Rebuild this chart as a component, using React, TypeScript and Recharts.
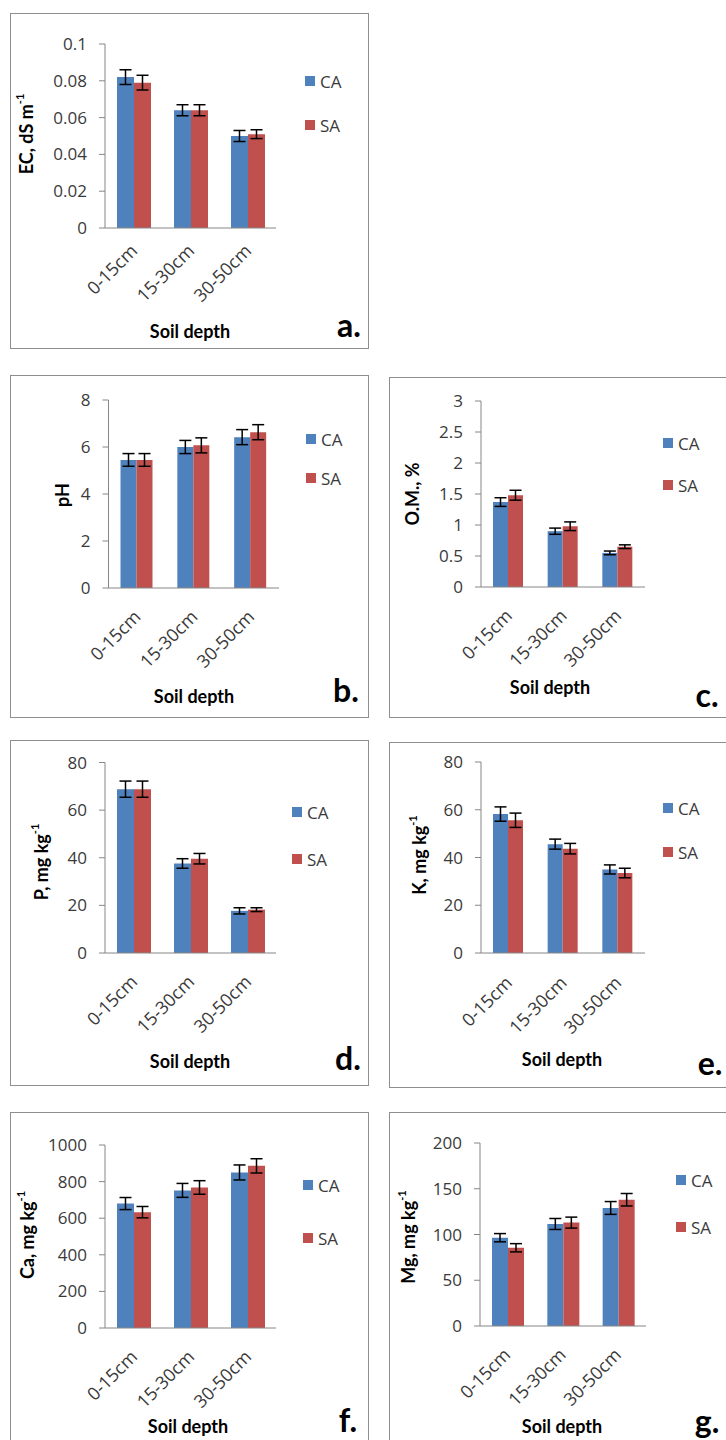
import { Bar, BarChart, ErrorBar, Label, Legend, XAxis, YAxis } from 'recharts';

const depths = ['0-15cm', '15-30cm', '30-50cm'];

// a. EC
const ecCA = [0.082, 0.064, 0.05];
const ecSA = [0.079, 0.064, 0.051];
const ecCAErr = [0.004, 0.003, 0.003];
const ecSAErr = [0.004, 0.003, 0.0024];
const ecTicks = [0, 0.02, 0.04, 0.06, 0.08, 0.1];

// b. pH
const phCA = [5.45, 6.0, 6.42];
const phSA = [5.45, 6.07, 6.63];
const phCAErr = [0.27, 0.28, 0.32];
const phSAErr = [0.27, 0.32, 0.32];
const phTicks = [0, 2, 4, 6, 8];

// c. O.M.
const omCA = [1.37, 0.9, 0.55];
const omSA = [1.48, 0.98, 0.65];
const omCAErr = [0.07, 0.05, 0.03];
const omSAErr = [0.08, 0.07, 0.03];
const omTicks = [0, 0.5, 1, 1.5, 2, 2.5, 3];

// d. P
const pCA = [68.8, 37.6, 17.7];
const pSA = [68.8, 39.6, 18.2];
const pCAErr = [3.4, 2.0, 1.3];
const pSAErr = [3.4, 2.2, 0.8];
const pTicks = [0, 20, 40, 60, 80];

// e. K
const kCA = [58.2, 45.6, 35];
const kSA = [55.6, 43.7, 33.5];
const kCAErr = [3.0, 2.1, 1.9];
const kSAErr = [3.0, 2.2, 2.0];
const kTicks = [0, 20, 40, 60, 80];

// f. Ca
const caCA = [680, 752, 850];
const caSA = [633, 768, 886];
const caCAErr = [33, 38, 41];
const caSAErr = [31, 37, 39];
const caTicks = [0, 200, 400, 600, 800, 1000];

// g. Mg
const mgCA = [96.5, 111.5, 129];
const mgSA = [85.5, 113, 138];
const mgCAErr = [4.5, 6, 7];
const mgSAErr = [4.5, 6, 6.8];
const mgTicks = [0, 50, 100, 150, 200];

const BLUE = '#4F81BD';
const RED = '#C0504D';
const AXIS = '#868686';
const TEXT = '#3a3a3a';
const TICK_FONT = '"Open Sans", sans-serif';
const TITLE_FONT = 'Lato, sans-serif';

function DepthTick(props: any) {
  const { x, y, payload, offX, offY } = props;
  const tx = x + offX;
  const ty = y + offY;
  return (
    <text
      x={tx}
      y={ty}
      transform={`rotate(-45 ${tx} ${ty})`}
      textAnchor="end"
      fontSize={18}
      fontFamily={TICK_FONT}
      fill={TEXT}
    >
      {payload.value}
    </text>
  );
}

function YTitle({ titleX, titleY, text, sup }: any) {
  return (
    <text
      transform={`translate(${titleX},${titleY}) rotate(-90)`}
      textAnchor="middle"
      dominantBaseline="central"
      fontSize={18}
      fontWeight="bold"
      fontFamily={TITLE_FONT}
      fill="#000"
    >
      {text}
      {sup && (
        <tspan dy={-7} fontSize={11}>
          {sup}
        </tspan>
      )}
    </text>
  );
}

function SoilTitle({ titleX, titleY }: any) {
  return (
    <text x={titleX} y={titleY} textAnchor="middle" fontSize={18} fontWeight="bold" fontFamily={TITLE_FONT} fill="#000">
      Soil depth
    </text>
  );
}

function LegendBox({ payload, gap }: any) {
  return (
    <div>
      {(payload || []).map((item: any) => (
        <div key={item.value} style={{ display: 'flex', alignItems: 'center', height: gap }}>
          <span style={{ display: 'inline-block', width: 10, height: 10, background: item.color, marginRight: 5 }} />
          <span style={{ fontFamily: TICK_FONT, fontSize: 17, color: TEXT, lineHeight: '17px' }}>{item.value}</span>
        </div>
      ))}
    </div>
  );
}

interface PanelProps {
  box: { left: number; top: number; width: number; height: number };
  plot: { left: number; right: number; top: number; bottom: number };
  ca: number[];
  sa: number[];
  caErr: number[];
  saErr: number[];
  ticks: number[];
  yTitle: string;
  ySup?: string;
  yTitlePos: { x: number; y: number };
  legend: { x: number; y: number; gap: number };
  tickOff: { dx: number; dy: number };
  soil: { x: number; y: number };
  letter: { text: string; x: number; y: number };
}

function Panel(p: PanelProps) {
  const ox = p.box.left + 1;
  const oy = p.box.top + 1;
  const w = p.box.width - 2;
  const h = p.box.height - 2;
  const yW = 60;
  const rows = depths.map((d, i) => ({
    depth: d,
    CA: p.ca[i],
    SA: p.sa[i],
    caErr: p.caErr[i],
    saErr: p.saErr[i],
  }));
  const margin = {
    top: p.plot.top - oy,
    left: p.plot.left - ox - yW,
    right: ox + w - p.plot.right,
    bottom: oy + h - p.soil.y - 6,
  };
  const xH = p.soil.y + 6 - p.plot.bottom;
  return (
    <div
      style={{
        position: 'absolute',
        left: p.box.left,
        top: p.box.top,
        width: p.box.width,
        height: p.box.height,
        border: '1px solid #8e8e8e',
        boxSizing: 'border-box',
        background: '#fff',
      }}
    >
      <BarChart width={w} height={h} data={rows} margin={margin} barCategoryGap={12} barGap={0}>
        <XAxis
          dataKey="depth"
          height={xH}
          interval={0}
          axisLine={{ stroke: AXIS }}
          tickLine={false}
          tickSize={0}
          tickMargin={0}
          tick={<DepthTick offX={p.tickOff.dx} offY={p.tickOff.dy} />}
        >
          <Label content={<SoilTitle titleX={p.soil.x - ox} titleY={p.soil.y - oy} />} />
        </XAxis>
        <YAxis
          width={yW}
          domain={[0, p.ticks[p.ticks.length - 1]]}
          ticks={p.ticks}
          interval={0}
          axisLine={{ stroke: AXIS }}
          tickLine={{ stroke: AXIS }}
          tickSize={6}
          tickMargin={12}
          tick={{ fill: TEXT, fontSize: 17, fontFamily: TICK_FONT }}
        >
          <Label
            content={
              <YTitle titleX={p.yTitlePos.x - ox} titleY={p.yTitlePos.y - oy} text={p.yTitle} sup={p.ySup} />
            }
          />
        </YAxis>
        <Legend
          layout="vertical"
          align="center"
          verticalAlign="middle"
          wrapperStyle={{ left: p.legend.x - ox, top: p.legend.y - p.legend.gap / 2 - oy, width: 'auto' }}
          content={<LegendBox gap={p.legend.gap} />}
        />
        <Bar dataKey="CA" fill={BLUE} isAnimationActive={false}>
          <ErrorBar dataKey="caErr" width={6} stroke="#000" strokeWidth={1.5} direction="y" isAnimationActive={false} />
        </Bar>
        <Bar dataKey="SA" fill={RED} isAnimationActive={false}>
          <ErrorBar dataKey="saErr" width={6} stroke="#000" strokeWidth={1.5} direction="y" isAnimationActive={false} />
        </Bar>
      </BarChart>
      <div
        style={{
          position: 'absolute',
          left: p.letter.x - ox - 25,
          top: p.letter.y - oy - 18,
          width: 50,
          height: 36,
          lineHeight: '36px',
          textAlign: 'center',
          fontFamily: TITLE_FONT,
          fontWeight: 'bold',
          fontSize: 32,
          color: '#000',
        }}
      >
        {p.letter.text}
      </div>
    </div>
  );
}

export default function App() {
  return (
    <div
      style={{
        position: 'absolute',
        left: 0,
        top: 0,
        width: 726,
        height: 1440,
        overflow: 'hidden',
        background: '#fff',
      }}
    >
      <Panel
        box={{ left: 10, top: 13, width: 359, height: 336 }}
        plot={{ left: 105, right: 276, top: 44, bottom: 228 }}
        ca={ecCA}
        sa={ecSA}
        caErr={ecCAErr}
        saErr={ecSAErr}
        ticks={ecTicks}
        yTitle="EC, dS m"
        ySup="-1"
        yTitlePos={{ x: 26, y: 134 }}
        legend={{ x: 305, y: 81, gap: 44 }}
        tickOff={{ dx: 5, dy: 24 }}
        soil={{ x: 190, y: 338 }}
        letter={{ text: 'a.', x: 349, y: 325 }}
      />
      <Panel
        box={{ left: 10, top: 375, width: 359, height: 343 }}
        plot={{ left: 108.5, right: 279, top: 400, bottom: 588 }}
        ca={phCA}
        sa={phSA}
        caErr={phCAErr}
        saErr={phSAErr}
        ticks={phTicks}
        yTitle="pH"
        yTitlePos={{ x: 62, y: 495 }}
        legend={{ x: 306, y: 439, gap: 39 }}
        tickOff={{ dx: 5, dy: 30 }}
        soil={{ x: 194, y: 703 }}
        letter={{ text: 'b.', x: 346, y: 690 }}
      />
      <Panel
        box={{ left: 389, top: 377, width: 345, height: 341 }}
        plot={{ left: 481, right: 645, top: 401, bottom: 587 }}
        ca={omCA}
        sa={omSA}
        caErr={omCAErr}
        saErr={omSAErr}
        ticks={omTicks}
        yTitle="O.M., %"
        yTitlePos={{ x: 412, y: 494 }}
        legend={{ x: 663, y: 443, gap: 42 }}
        tickOff={{ dx: 5, dy: 30 }}
        soil={{ x: 550, y: 694 }}
        letter={{ text: 'c.', x: 707, y: 695 }}
      />
      <Panel
        box={{ left: 10, top: 740, width: 359, height: 346 }}
        plot={{ left: 105, right: 276, top: 762.5, bottom: 953 }}
        ca={pCA}
        sa={pSA}
        caErr={pCAErr}
        saErr={pSAErr}
        ticks={pTicks}
        yTitle="P, mg kg"
        ySup="-1"
        yTitlePos={{ x: 41, y: 862 }}
        legend={{ x: 292, y: 812, gap: 47 }}
        tickOff={{ dx: 5, dy: 30 }}
        soil={{ x: 190, y: 1068 }}
        letter={{ text: 'd.', x: 348, y: 1058 }}
      />
      <Panel
        box={{ left: 389, top: 742, width: 345, height: 346 }}
        plot={{ left: 481, right: 645, top: 762, bottom: 953 }}
        ca={kCA}
        sa={kSA}
        caErr={kCAErr}
        saErr={kSAErr}
        ticks={kTicks}
        yTitle="K, mg kg"
        ySup="-1"
        yTitlePos={{ x: 419, y: 855 }}
        legend={{ x: 663, y: 808, gap: 44 }}
        tickOff={{ dx: 5, dy: 31 }}
        soil={{ x: 562, y: 1066 }}
        letter={{ text: 'e.', x: 710, y: 1063 }}
      />
      <Panel
        box={{ left: 10, top: 1112, width: 359, height: 345 }}
        plot={{ left: 105, right: 276, top: 1145, bottom: 1328 }}
        ca={caCA}
        sa={caSA}
        caErr={caCAErr}
        saErr={caSAErr}
        ticks={caTicks}
        yTitle="Ca, mg kg"
        ySup="-1"
        yTitlePos={{ x: 27, y: 1235 }}
        legend={{ x: 303, y: 1185, gap: 53 }}
        tickOff={{ dx: 5, dy: 30 }}
        soil={{ x: 188, y: 1433 }}
        letter={{ text: 'f.', x: 348, y: 1420 }}
      />
      <Panel
        box={{ left: 389, top: 1112, width: 345, height: 345 }}
        plot={{ left: 480, right: 646, top: 1143, bottom: 1326 }}
        ca={mgCA}
        sa={mgSA}
        caErr={mgCAErr}
        saErr={mgSAErr}
        ticks={mgTicks}
        yTitle="Mg, mg kg"
        ySup="-1"
        yTitlePos={{ x: 408, y: 1237 }}
        legend={{ x: 676, y: 1180, gap: 47 }}
        tickOff={{ dx: 4, dy: 30 }}
        soil={{ x: 562, y: 1433 }}
        letter={{ text: 'g.', x: 707, y: 1421 }}
      />
    </div>
  );
}
